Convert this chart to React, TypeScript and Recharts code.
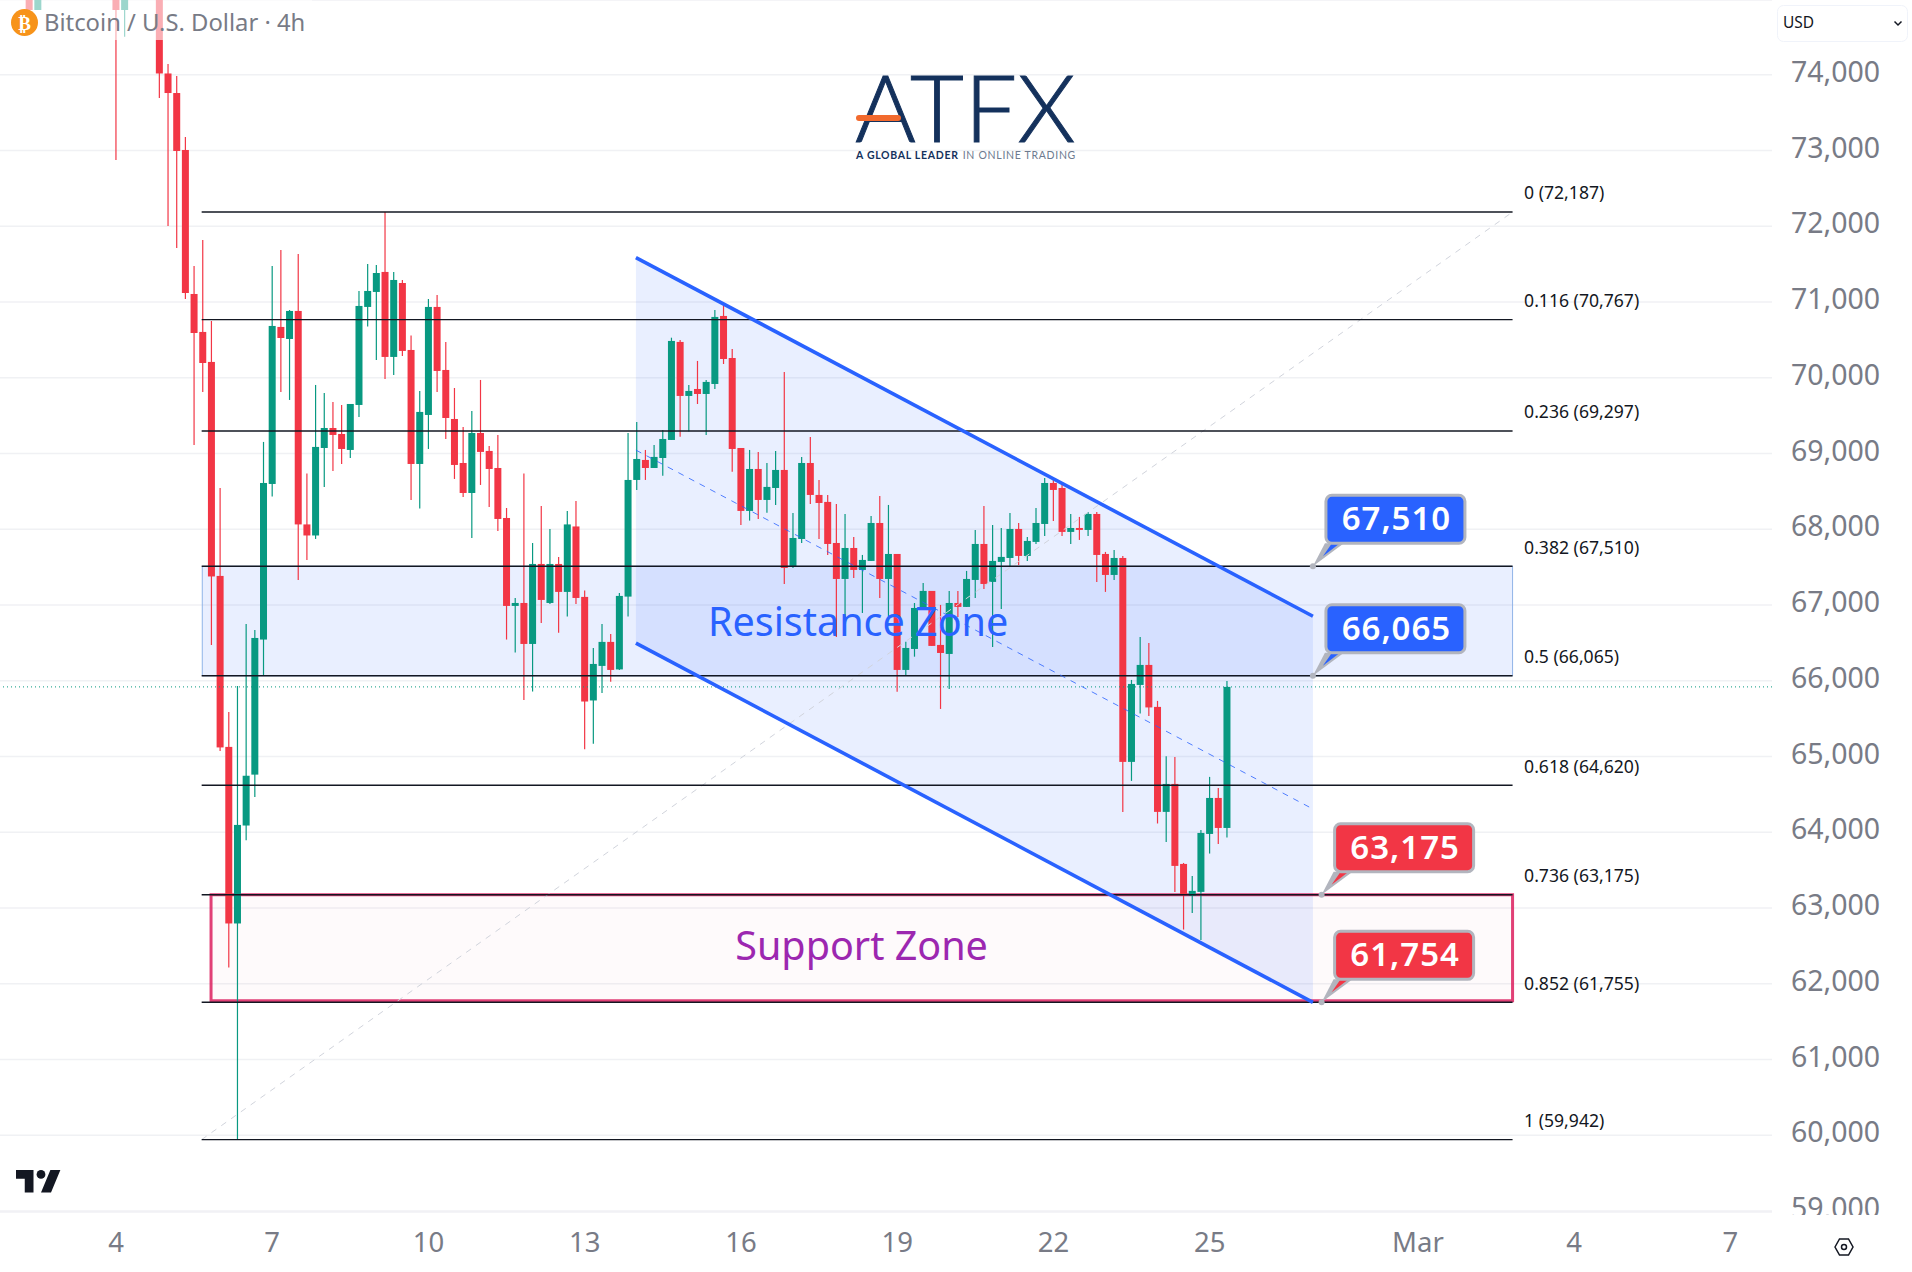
import React from 'react';
import { ComposedChart, Bar, Area, XAxis, YAxis, CartesianGrid, ReferenceLine, ReferenceArea, ReferenceDot } from 'recharts';

// BTC/USD 4h candles. Slots are 4h bars counted from Feb 4.
const earlySlots = [-10, -9, 0, 1];
const opens = [
  75300, 74854, 75600, 74854, 75800,
  74016, 73758, 73006, 71105, 70604, 70208, 67383, 65126, 62795, 64088, 64760, 66543, 68597, 70670, 70511, 70881, 68063, 67917, 69072, 69336,
  69257, 69046, 69640, 70934, 71132, 71396, 70274, 71250, 70366, 68861, 69508, 70934, 70102, 69455, 68874, 68478, 69270, 69033, 68808, 68148,
  66987, 67026, 66485, 67541, 67026, 67541, 67172, 68036, 67106, 65739, 66195, 66512, 66149, 67110, 68650, 68914, 68808, 68940, 69178, 70472,
  69759, 69851, 69785, 69917, 70815, 70260, 69072, 68241, 68795, 68386, 68544, 68782, 67502, 67871, 68874, 68452, 68360, 67818, 67343, 67752,
  67462, 67581, 68082, 67343, 67673, 66142, 66419, 66947, 67185, 66472, 66353, 67026, 66974, 67330, 67805, 67304, 67568, 67620, 68003, 67647,
  67832, 68069, 68610, 68544, 67964, 68016, 67990, 68201, 67673, 67396, 67620, 64928, 65944, 66208, 65654, 64268, 64637, 63581, 63159, 63212,
  63977, 64452, 64056,
];
const closes = [
  74854, 75500, 74854, 75700, 74016,
  73758, 72993, 71118, 70590, 70194, 67376, 65119, 62795, 64096, 64745, 66564, 68610, 70683, 70524, 70881, 68063, 67917, 69086, 69336, 69244,
  69059, 69653, 70947, 71145, 71382, 70274, 71290, 70353, 68861, 69548, 70934, 70089, 69468, 68848, 68478, 69270, 69020, 68795, 68135, 66987,
  67026, 66485, 67541, 67066, 67541, 67172, 68063, 67092, 65725, 66221, 66512, 66142, 67119, 68650, 68927, 68808, 68954, 69191, 70485, 69759,
  69825, 69785, 69944, 70802, 70247, 69059, 68241, 68795, 68386, 68558, 68782, 67488, 67884, 68874, 68452, 68346, 67805, 67343, 67752, 67462,
  67594, 68082, 67343, 67673, 66142, 66432, 66960, 67185, 66459, 66366, 67026, 66974, 67343, 67805, 67277, 67581, 67634, 68003, 67647, 67845,
  68082, 68610, 68518, 67964, 68016, 67990, 68201, 67660, 67396, 67620, 64928, 65957, 66208, 65647, 64268, 64637, 63555, 63172, 63225, 63990,
  64452, 64056, 65918,
];
const highs = [
  75600, 75700, 76200, 76000, 76100,
  74141, 73983, 73178, 71475, 71818, 70749, 68544, 65588, 65931, 66749, 66670, 69152, 71475, 71686, 70894, 71633, 68736, 69904, 69798, 69680,
  69640, 69653, 71145, 71501, 71488, 72187, 71396, 71290, 70557, 69825, 71039, 71092, 70472, 69864, 69350, 69561, 69970, 69099, 69244, 68280,
  67092, 68736, 67818, 68307, 68003, 67634, 68241, 68373, 67190, 66432, 66749, 66617, 67158, 69270, 69416, 69046, 69112, 69310, 70528, 70498,
  69904, 70221, 69970, 70894, 70960, 70379, 69072, 69046, 69020, 68874, 69033, 70076, 68214, 68954, 69218, 68650, 68452, 68333, 68201, 67898,
  67660, 68175, 68439, 68320, 67673, 66515, 67026, 67290, 67185, 67000, 67185, 67185, 67449, 67990, 68307, 68056, 68016, 68214, 68082, 67898,
  68280, 68676, 68650, 68610, 68201, 68162, 68228, 68228, 67700, 67726, 67647, 66010, 66578, 66498, 65733, 65001, 64994, 63594, 63423, 64030,
  64730, 64584, 65997,
];
const lows = [
  74854, 74854, 72874, 74502, 73692,
  72003, 71712, 71039, 69112, 69812, 66472, 65073, 62214, 59941, 63892, 64466, 66068, 68430, 69812, 69706, 67330, 67594, 67871, 68558, 68769,
  68861, 68940, 69482, 70676, 70234, 69983, 70036, 70287, 68386, 68272, 69059, 69812, 69191, 68663, 68426, 67884, 68584, 68294, 67977, 66543,
  66372, 65746, 65857, 66762, 67013, 66634, 66847, 67013, 65094, 65169, 65838, 65987, 66142, 66846, 68518, 68650, 68808, 68707, 69178, 69221,
  69288, 69653, 69244, 69851, 70181, 68759, 68056, 68113, 68135, 68218, 68320, 67277, 67488, 67818, 68333, 67871, 67660, 66578, 66842, 67356,
  66894, 67581, 67092, 66842, 65855, 66076, 66317, 66947, 66459, 65627, 65891, 66842, 66974, 67092, 67211, 66446, 66947, 67515, 67528, 67581,
  67805, 67911, 68109, 67911, 67805, 67858, 67911, 67304, 67172, 67330, 64268, 64677, 65566, 65535, 64115, 63872, 63211, 62715, 62934, 62578,
  63718, 63845, 63931,
];

const priceTicks = [59000, 60000, 61000, 62000, 63000, 64000, 65000, 66000, 67000, 68000, 69000, 70000, 71000, 72000, 73000, 74000];
const dateSlots = [0, 18, 36, 54, 72, 90, 108, 126, 150, 168, 186];
const dateLabels = ['4', '7', '10', '13', '16', '19', '22', '25', 'Mar', '4', '7'];

const fibRatios = ['0', '0.116', '0.236', '0.382', '0.5', '0.618', '0.736', '0.852', '1'];
const fibPrices = [72187, 70767, 69297, 67510, 66065, 64620, 63175, 61755, 59942];
const lastPrice = 65918;

const channelSlots = [59.9, 137.9];
const channelUpper = [71586, 66851];
const channelMiddle = [69044, 64306];
const channelLower = [66497, 61754];

const GREEN = '#089981';
const RED = '#f23645';
const BLUE = '#2962ff';
const GREY = '#787b86';
const FONT = '"Noto Sans", sans-serif';

const slots = [...earlySlots, ...opens.slice(earlySlots.length).map((_, k) => k + 5)];
const candles = slots.map((slot, k) => ({
  slot,
  open: opens[k],
  close: closes[k],
  high: highs[k],
  low: lows[k],
  range: [lows[k], highs[k]],
}));
const channelBand = channelSlots.map((slot, k) => ({ slot, band: [channelLower[k], channelUpper[k]] }));

function Candle(props: any) {
  const { x, y, width, height, payload } = props;
  const { open, close, high, low } = payload;
  const perUnit = height / (high - low);
  const top = y + (high - Math.max(open, close)) * perUnit;
  const bottom = y + (high - Math.min(open, close)) * perUnit;
  const color = close >= open ? GREEN : RED;
  const mid = x + width / 2;
  return (
    <g>
      <line x1={mid} x2={mid} y1={y} y2={y + height} stroke={color} strokeWidth={1.2} />
      <rect x={mid - 3.5} y={top} width={7} height={Math.max(bottom - top, 1)} fill={color} />
    </g>
  );
}

function PriceTick({ x, y, payload }: any) {
  return (
    <text x={x + 11} y={y - 3} dy="0.36em" fontFamily={FONT} fontSize={28.5} fill={GREY} clipPath="url(#priceClip)">
      {payload.value.toLocaleString('en-US')}
    </text>
  );
}

function DateTick({ x, y, payload }: any) {
  const label = dateLabels[dateSlots.indexOf(payload.value)];
  return (
    <text x={x} y={y + 32} textAnchor="middle" fontFamily={FONT} fontSize={27.5} fill={GREY}>
      {label}
    </text>
  );
}

function Callout({ cx, cy, color, text }: any) {
  const left = cx + 13;
  const top = cy - 71;
  return (
    <g>
      <polygon points={`${cx},${cy} ${left - 1},${top + 48} ${left + 18},${top + 48}`} fill="#b2b5be" />
      <polygon points={`${cx + 10},${cy - 10} ${left + 6},${top + 48} ${left + 14},${top + 48}`} fill={color} />
      <circle cx={cx} cy={cy} r={3} fill="#b2b5be" />
      <rect x={left} y={top} width={139} height={48} rx={6} fill={color} stroke="#b2b5be" strokeWidth={3} />
      <text x={left + 70.5} y={top + 35} textAnchor="middle" fontFamily={FONT} fontWeight={600} fontSize={33} letterSpacing={1} fill="#fff">
        {text}
      </text>
    </g>
  );
}

function ZoneTitle({ cx, cy, color, text }: any) {
  return (
    <text x={cx} y={cy} dy="0.36em" textAnchor="middle" fontFamily={FONT} fontSize={39.5} fill={color}>
      {text}
    </text>
  );
}

function FibLabel({ cx, cy, text }: any) {
  return (
    <text x={cx + 11.5} y={cy - 19} dy="0.36em" fontFamily={FONT} fontSize={17.6} fill="#131722">
      {text}
    </text>
  );
}

function Overlay() {
  return (
    <svg width={1912} height={1272} style={{ position: 'absolute', left: 0, top: 0, pointerEvents: 'none' }}>
      <rect x={0} y={0} width={312} height={40} fill="#fff" fillOpacity={0.6} />
      <circle cx={24.5} cy={22.5} r={13.5} fill="#f7931a" />
      <text x={24.5} y={29.5} textAnchor="middle" fontFamily="DejaVu Sans" fontWeight={700} fontSize={19} fill="#fff">₿</text>
      <text x={44} y={31} fontFamily={FONT} fontSize={23.8} fill={GREY}>Bitcoin / U.S. Dollar · 4h</text>

      <rect x={1777.5} y={5.5} width={130} height={36} rx={6} fill="#fff" stroke="#f0f3fa" />
      <text x={1783} y={28} fontFamily={FONT} fontSize={15.5} fill="#131722">USD</text>
      <path d="M1894.5 21.5 L1898 25 L1901.5 21.5" fill="none" stroke="#131722" strokeWidth={1.5} />

      <text x={965.5} y={142} textAnchor="middle" fontFamily="Lato" fontWeight={300} fontSize={93} letterSpacing={0.6} stroke="#14315c" strokeWidth={1} fill="#14315c">ATFX</text>
      <rect x={856} y={115} width={45} height={6} rx={3} fill="#f26a2e" />
      <text x={856} y={159} fontFamily="Lato" fontWeight={700} fontSize={10.5} letterSpacing={0.7} fill="#14315c">A GLOBAL LEADER</text>
      <text x={1076} y={159} textAnchor="end" fontFamily="Lato" fontSize={10.5} letterSpacing={0.7} fill="#6d7a8f">IN ONLINE TRADING</text>

      <g transform="translate(16 1165) scale(1.25)" fill="#131722">
        <path d="M14 22H7V11H0V4h14v18zM28 22h-8l7.5-18h8L28 22z" />
        <circle cx={20} cy={7.5} r={3.5} />
      </g>
      <g transform="translate(1844 1247)" fill="none" stroke="#131722" strokeWidth={1.5}>
        <path d="M-9 0 L-4.5 -8 L4.5 -8 L9 0 L4.5 8 L-4.5 8 Z" />
        <circle r={2.5} />
      </g>
    </svg>
  );
}

export default function App() {
  return (
    <div style={{ position: 'absolute', left: 0, top: 0, width: 1912, height: 1272, background: '#fff', overflow: 'hidden' }}>
      <ComposedChart width={1912} height={1272} data={candles} margin={{ top: 0, right: 0, bottom: 0, left: 0 }}>
        <defs>
          <clipPath id="priceClip">
            <rect x={1772} y={0} width={140} height={1215} />
          </clipPath>
        </defs>
        <CartesianGrid horizontal vertical={false} stroke="#f0f1f4" strokeWidth={1.5} />
        <XAxis
          dataKey="slot"
          type="number"
          domain={[-13.364, 190.79]}
          allowDataOverflow
          ticks={dateSlots}
          interval={0}
          height={60}
          axisLine={false}
          tickLine={false}
          tick={<DateTick />}
        />
        <YAxis
          orientation="right"
          type="number"
          domain={[58986, 74986]}
          allowDataOverflow
          ticks={priceTicks}
          interval={0}
          width={140}
          axisLine={false}
          tickLine={false}
          tick={<PriceTick />}
        />
        <Bar dataKey="range" barSize={7} shape={<Candle />} isAnimationActive={false} />
        <ReferenceLine y={lastPrice} stroke={GREEN} strokeDasharray="1 3" />
        <Area data={channelBand} dataKey="band" type="linear" stroke="none" fill={BLUE} fillOpacity={0.1} dot={false} activeDot={false} isAnimationActive={false} />
        <ReferenceArea x1={9.94} x2={160.9} y1={66065} y2={67510} fill={BLUE} fillOpacity={0.1} stroke="#90b4e8" />
        <ReferenceLine
          segment={[{ x: 9.87, y: fibPrices[8] }, { x: 160.9, y: fibPrices[0] }]}
          stroke="#d1d4dc"
          strokeDasharray="6 6"
        />
        {fibPrices.map((price) => (
          <ReferenceLine key={price} segment={[{ x: 9.87, y: price }, { x: 160.9, y: price }]} stroke="#131722" strokeWidth={1.4} />
        ))}
        <ReferenceLine segment={[{ x: channelSlots[0], y: channelUpper[0] }, { x: channelSlots[1], y: channelUpper[1] }]} stroke={BLUE} strokeWidth={3.6} />
        <ReferenceLine segment={[{ x: channelSlots[0], y: channelLower[0] }, { x: channelSlots[1], y: channelLower[1] }]} stroke={BLUE} strokeWidth={3.6} />
        <ReferenceLine segment={[{ x: channelSlots[0], y: channelMiddle[0] }, { x: channelSlots[1], y: channelMiddle[1] }]} stroke={BLUE} strokeDasharray="6 6" strokeOpacity={0.8} />
        <ReferenceArea x1={10.95} x2={160.9} y1={61775} y2={63175} fill="#e91e63" fillOpacity={0.025} stroke="#dc1f5e" strokeOpacity={0.85} strokeWidth={3} />
        {fibPrices.map((price, k) => (
          <ReferenceDot
            key={price}
            x={160.9}
            y={price}
            shape={<FibLabel text={`${fibRatios[k]} (${price.toLocaleString('en-US')})`} />}
          />
        ))}
        <ReferenceDot x={85.5} y={66780} shape={<ZoneTitle color={BLUE} text="Resistance Zone" />} />
        <ReferenceDot x={85.9} y={62495} shape={<ZoneTitle color="#9c27b0" text="Support Zone" />} />
        <ReferenceDot x={137.9} y={67510} shape={<Callout color={BLUE} text="67,510" />} />
        <ReferenceDot x={137.9} y={66065} shape={<Callout color={BLUE} text="66,065" />} />
        <ReferenceDot x={138.9} y={63175} shape={<Callout color={RED} text="63,175" />} />
        <ReferenceDot x={138.9} y={61754} shape={<Callout color={RED} text="61,754" />} />
      </ComposedChart>
      <Overlay />
    </div>
  );
}
